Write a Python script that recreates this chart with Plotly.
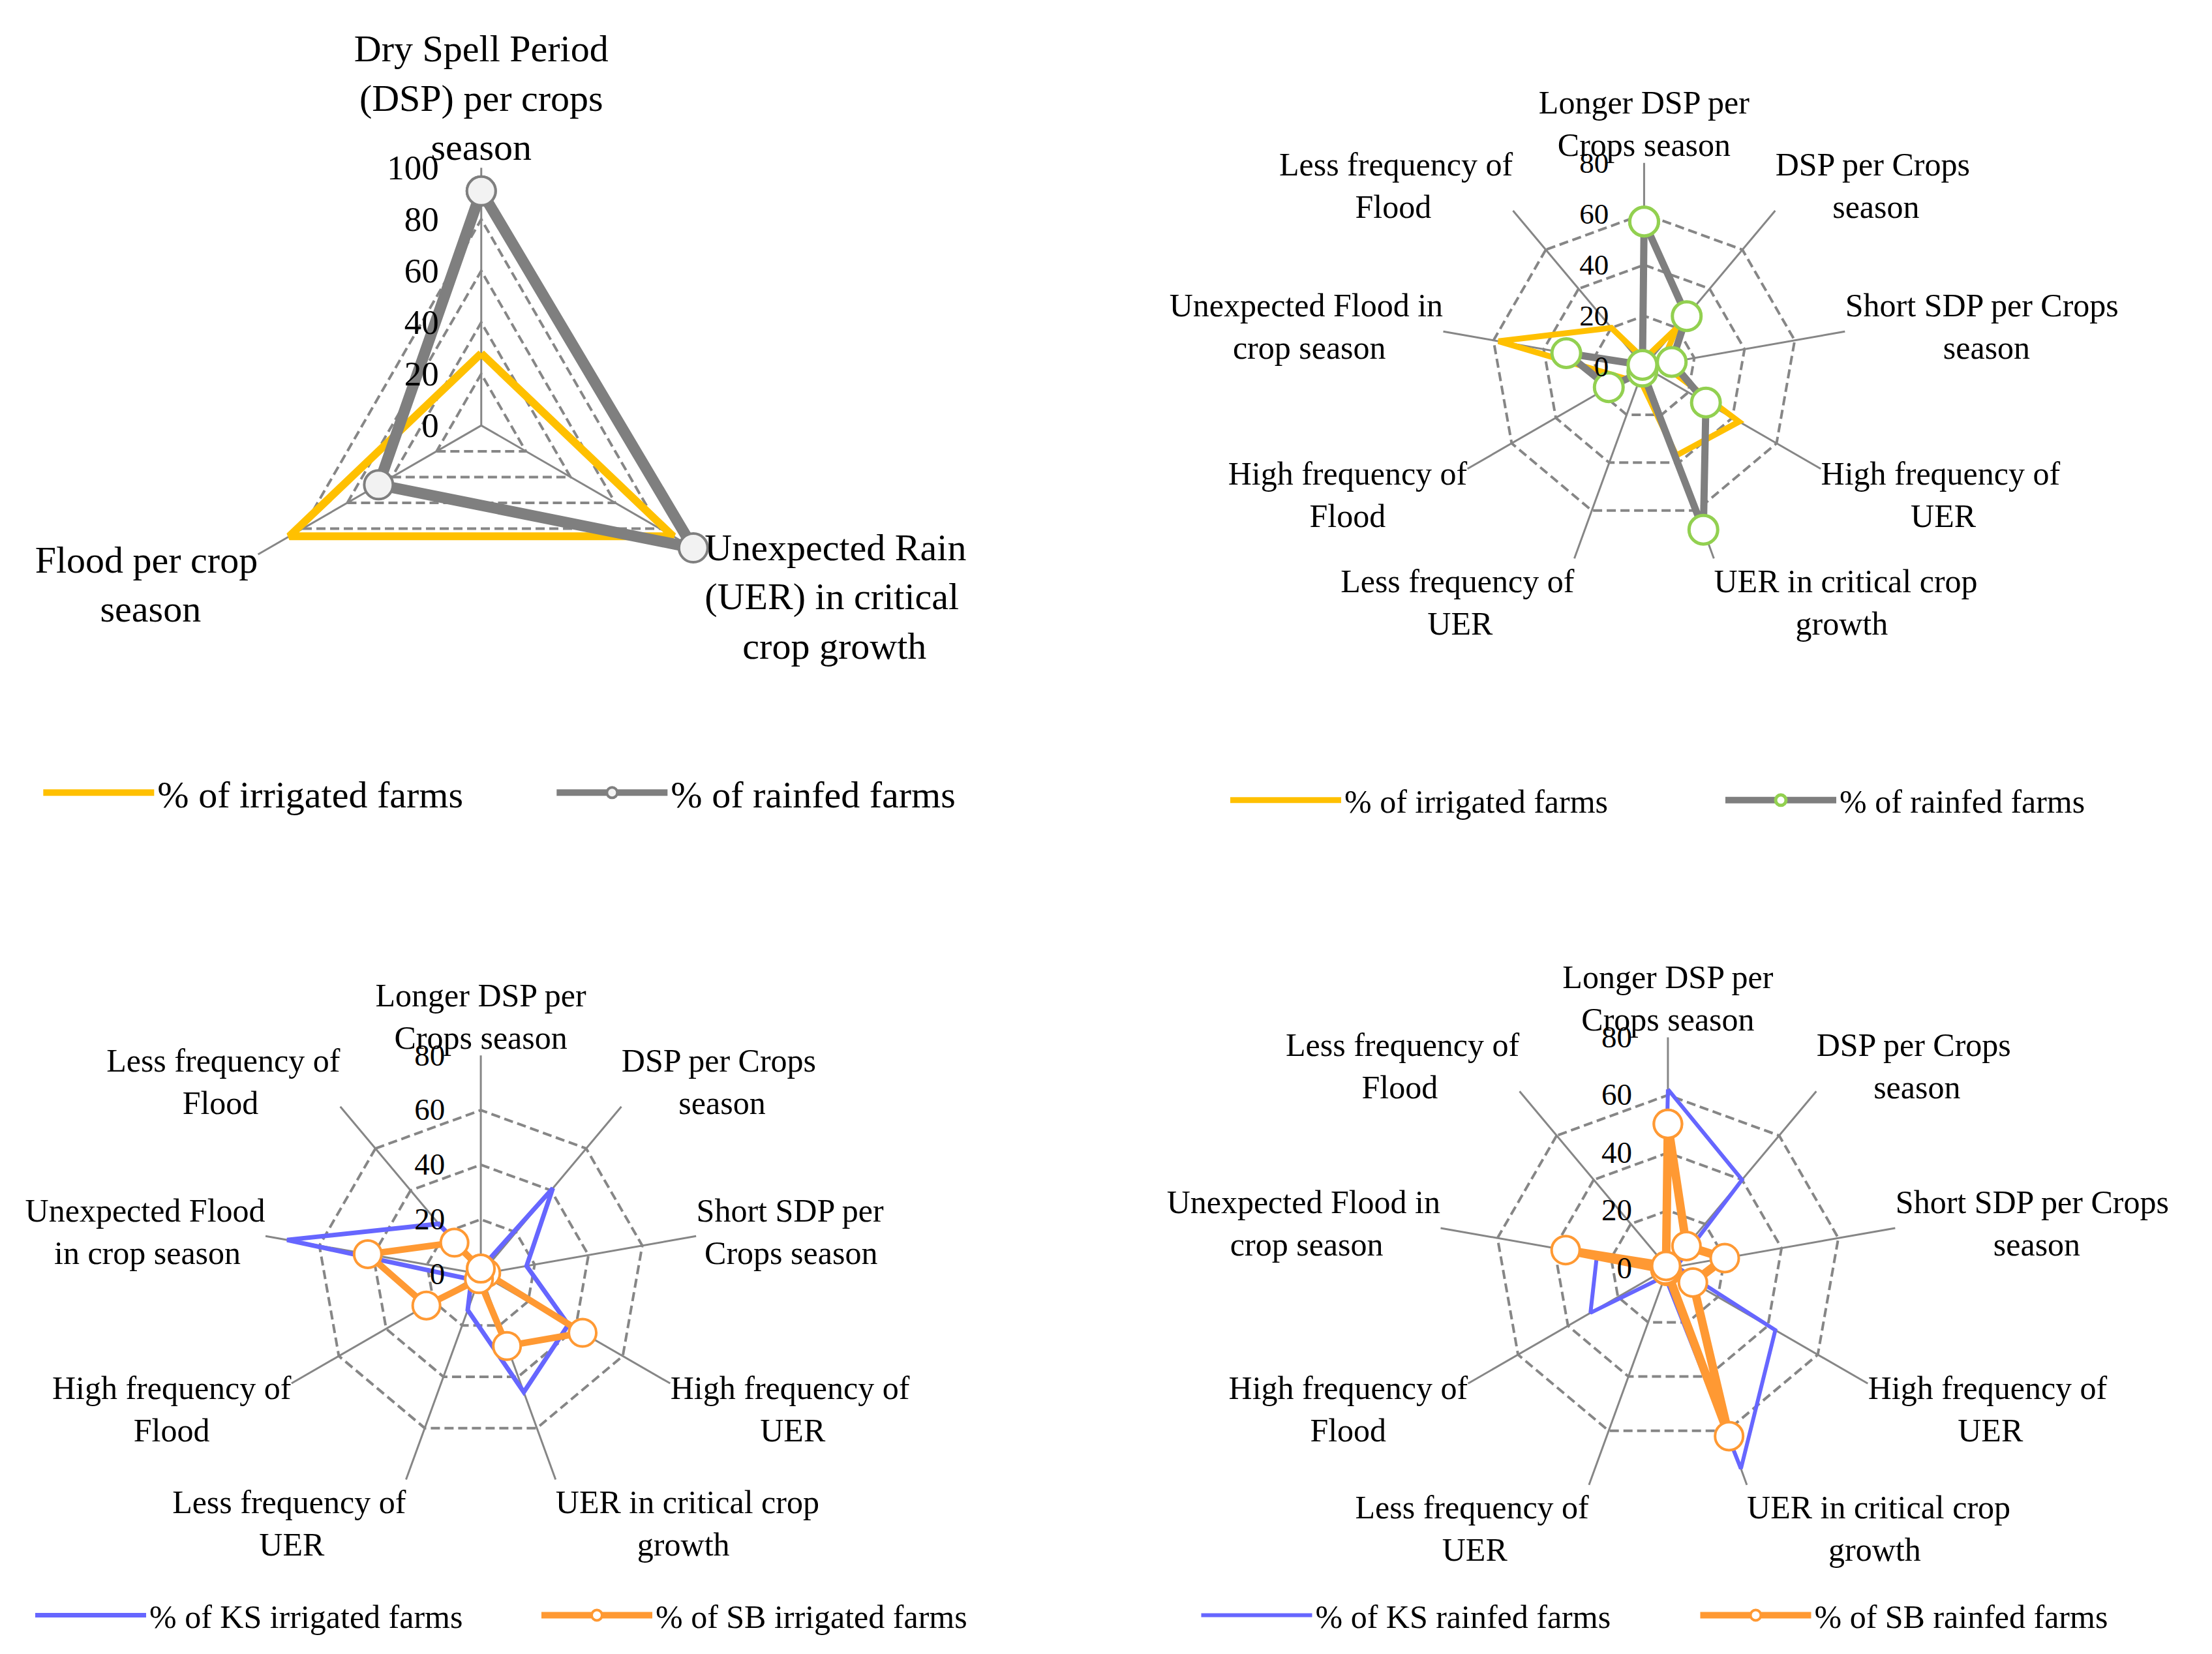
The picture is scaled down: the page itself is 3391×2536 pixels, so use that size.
import math
import plotly.graph_objects as go

FONT = "Liberation Serif"
GRID = "#868686"

# chart 1 (top left): three hazards, 0-100
hazards = ["Dry Spell Period<br>(DSP) per crops<br>season",
           "Unexpected Rain<br>(UER) in critical<br>crop growth",
           "Flood per crop<br>season"]
irrigated_pct = [28, 86, 86]
rainfed_pct = [91, 95, 46]

# charts 2-4: nine hazard patterns, 0-80
patterns_tr = ["Longer DSP per<br>Crops season", "DSP per Crops<br>season",
               "Short SDP per Crops<br>season", "High frequency of<br>UER",
               "UER in critical crop<br>growth", "Less frequency of<br>UER",
               "High frequency of<br>Flood", "Unexpected Flood in<br>crop season",
               "Less frequency of<br>Flood"]
patterns_bl = ["Longer DSP per<br>Crops season", "DSP per Crops<br>season",
               "Short SDP per<br>Crops season", "High frequency of<br>UER",
               "UER in critical crop<br>growth", "Less frequency of<br>UER",
               "High frequency of<br>Flood", "Unexpected Flood<br>in crop season",
               "Less frequency of<br>Flood"]
patterns_br = patterns_tr

irrigated_pat = [3, 20, 7, 43, 37, 5, 9, 58, 20]
rainfed_pat = [57, 26, 11, 28, 68, 2, 16, 31, 1]
ks_irrigated = [2, 41, 17, 37, 46, 14, 4, 72, 24]
sb_irrigated = [2, 1, 2, 43, 28, 2, 23, 42, 15]
ks_rainfed = [62, 40, 3, 43, 74, 3, 31, 25, 2]
sb_rainfed = [50, 10, 20, 10, 62, 1, 1, 36, 1]

# rough Times widths (em) so wrapped labels can be centred like Excel does
CHAR_W = {'a': .444, 'b': .5, 'c': .444, 'd': .5, 'e': .444, 'f': .333, 'g': .5,
          'h': .5, 'i': .278, 'j': .278, 'k': .5, 'l': .278, 'm': .778, 'n': .5,
          'o': .5, 'p': .5, 'q': .5, 'r': .333, 's': .389, 't': .278, 'u': .5,
          'v': .5, 'w': .722, 'x': .5, 'y': .5, 'z': .444, ' ': .25, '(': .333,
          ')': .333, 'D': .722, 'S': .556, 'P': .556, 'U': .722, 'E': .611,
          'R': .667, 'F': .556, 'L': .611, 'C': .667, 'H': .722, 'K': .722}


def text_w(s):
    return sum(CHAR_W.get(c, .6) for c in s)


def centred(cats):
    out = []
    n = len(cats)
    for k, lab in enumerate(cats):
        side = math.sin(math.radians(360 * k / n))
        lines = lab.split("<br>")
        wmax = max(text_w(l) for l in lines)
        new = []
        for l in lines:
            pad = "\u00a0" * int(round((wmax - text_w(l)) / 2 / 0.25))
            if side > 0.05:
                l = pad + l
            elif side < -0.05:
                l = l + pad
            new.append(l)
        out.append("<br>".join(new))
    return out


def add_line(fig, vals, cats, name, subplot, legend, color, width, marker=None):
    cats = centred(cats)
    r = list(vals) + [vals[0]]
    theta = cats + [cats[0]]
    kw = dict(mode="lines")
    if marker:
        kw = dict(mode="lines+markers", marker=marker)
    fig.add_trace(go.Scatterpolar(r=r, theta=theta, name=name, subplot=subplot,
                                  legend=legend, line=dict(color=color, width=width),
                                  **kw))


fig = go.Figure()

add_line(fig, irrigated_pct, hazards, "% of irrigated farms", "polar", "legend",
         "#FFC000", 12)
add_line(fig, rainfed_pct, hazards, "% of rainfed farms", "polar", "legend",
         "#7F7F7F", 17,
         dict(size=44, color="#F2F2F2", line=dict(color="#7F7F7F", width=4)))

add_line(fig, irrigated_pat, patterns_tr, "% of irrigated farms", "polar2", "legend2",
         "#FFC000", 9)
add_line(fig, rainfed_pat, patterns_tr, "% of rainfed farms", "polar2", "legend2",
         "#7F7F7F", 11,
         dict(size=44, color="white", line=dict(color="#92D050", width=5)))

add_line(fig, ks_irrigated, patterns_bl, "% of KS irrigated farms", "polar3", "legend3",
         "#6666FF", 7)
add_line(fig, sb_irrigated, patterns_bl, "% of SB irrigated farms", "polar3", "legend3",
         "#FF9933", 10,
         dict(size=42, color="white", line=dict(color="#FF9933", width=4)))

add_line(fig, ks_rainfed, patterns_br, "% of KS rainfed farms", "polar4", "legend4",
         "#6666FF", 6)
add_line(fig, sb_rainfed, patterns_br, "% of SB rainfed farms", "polar4", "legend4",
         "#FF9933", 13,
         dict(size=43, color="white", line=dict(color="#FF9933", width=4)))


def polar_style(xdom, ydom, rmax, fsize, rsize, gap):
    return dict(
        domain=dict(x=xdom, y=ydom),
        gridshape="linear",
        bgcolor="white",
        radialaxis=dict(range=[0, rmax + 0.01], dtick=20, angle=90, tickangle=90,
                        side="counterclockwise", showline=False,
                        ticks="outside", ticklen=gap, tickcolor="rgba(0,0,0,0)",
                        gridcolor=GRID, gridwidth=4, griddash="14px,7px",
                        tickfont=dict(family=FONT, size=rsize, color="black")),
        angularaxis=dict(direction="clockwise", rotation=90, showline=False,
                         ticks="", gridcolor=GRID, gridwidth=3,
                         tickfont=dict(family=FONT, size=fsize, color="black")),
    )


def legend_style(x, y, fsize, entry):
    return dict(x=x, y=y, xanchor="left", yanchor="middle", orientation="h",
                itemwidth=170, entrywidth=entry, bgcolor="rgba(0,0,0,0)",
                font=dict(family=FONT, size=fsize, color="black"))


fig.update_layout(
    width=3391, height=2536,
    margin=dict(l=0, r=0, t=0, b=0),
    paper_bgcolor="white",
    showlegend=True,
    polar=polar_style([0.1004, 0.3375], [0.5874, 0.9044], 100, 58, 53, 46),
    polar2=polar_style([0.6600, 0.8476], [0.6560, 0.9067], 80, 50, 45, 38),
    polar3=polar_style([0.1182, 0.3193], [0.0984, 0.3673], 80, 50, 47, 38),
    polar4=polar_style([0.6586, 0.8709], [0.0945, 0.3784], 80, 50, 47, 38),
    legend=legend_style(0.016, 0.5238, 58, 602),
    legend2=legend_style(0.562, 0.5194, 50, 574),
    legend3=legend_style(0.0123, 0.0266, 50, 591),
    legend4=legend_style(0.5486, 0.0266, 50, 580),
)

fig.write_html("out.html")
